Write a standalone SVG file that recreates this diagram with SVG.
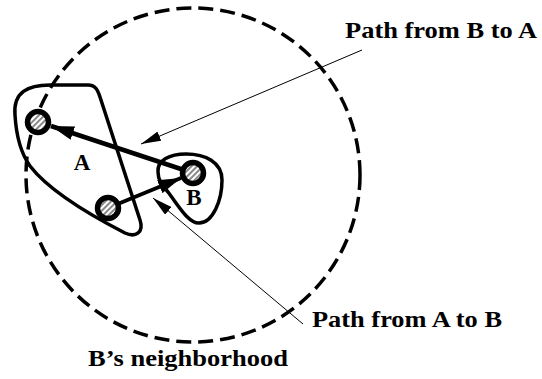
<svg xmlns="http://www.w3.org/2000/svg" width="542" height="379" viewBox="0 0 542 379">
<style>
text{font-family:"Liberation Serif","Times New Roman",serif;font-weight:bold;fill:#000}
.blob{fill:none;stroke:#000;stroke-width:3.5}
.node{fill:url(#hatch);stroke:#000;stroke-width:5.5}
.thick{stroke:#000;fill:none}
.leader{stroke:#000;stroke-width:1;fill:none}
</style>
<defs>
<pattern id="hatch" patternUnits="userSpaceOnUse" width="4" height="4" patternTransform="rotate(-45)">
<rect width="4" height="4" fill="#fff"/>
<rect width="4" height="2" fill="#888"/>
</pattern>
<marker id="bigHead" markerUnits="userSpaceOnUse" markerWidth="24" markerHeight="14" refX="23" refY="7" orient="auto">
<path d="M0,0 L23,7 L0,14 Z" fill="#000"/>
</marker>
<marker id="thinHead" markerUnits="userSpaceOnUse" markerWidth="21" markerHeight="10" refX="20" refY="5" orient="auto">
<path d="M0,0 L20,5 L0,10 Z" fill="#000"/>
</marker>
</defs>
<rect width="542" height="379" fill="#fff"/>
<g id="neighborhood">
<circle cx="193" cy="175" r="167" fill="none" stroke="#000" stroke-width="3.5" stroke-dasharray="15 7"/>
<text x="88" y="366" font-size="24" textLength="200" lengthAdjust="spacingAndGlyphs">B’s neighborhood</text>
</g>
<g id="regionA">
<path class="blob" d="M15,115 C13,92 28,85 50,85 L88,85 C96,85 98,91 100,97 L140,220 C144,232 136,238 125,233 C90,215 50,192 30,166 C20,152 16,132 15,115 Z"/>
<text x="82" y="170" font-size="23" text-anchor="middle">A</text>
</g>
<g id="regionB">
<path class="blob" d="M158,172 C157,160 170,154 186,154 C205,154 222,162 222,180 C222,200 213,223 199,223 C188,223 178,205 168,192 C162,185 158,180 158,172 Z"/>
<text x="194" y="205" font-size="23" text-anchor="middle">B</text>
</g>
<g id="connectors">
<line class="thick" x1="193" y1="173" x2="51" y2="126" stroke-width="4.5" marker-end="url(#bigHead)"/>
<line class="thick" x1="108" y1="208" x2="181" y2="178" stroke-width="4" marker-end="url(#bigHead)"/>
<line class="leader" x1="362" y1="50" x2="141" y2="144" marker-end="url(#thinHead)"/>
<line class="leader" x1="303" y1="324" x2="153" y2="198" marker-end="url(#thinHead)"/>
</g>
<g id="nodeA1"><circle class="node" cx="38" cy="122" r="10.5"/></g>
<g id="nodeA2"><circle class="node" cx="108" cy="208" r="10.5"/></g>
<g id="nodeB"><circle class="node" cx="193" cy="173" r="10.5"/></g>
<g id="labels">
<text x="345" y="38" font-size="24" textLength="192" lengthAdjust="spacingAndGlyphs">Path from B to A</text>
<text x="312" y="327" font-size="24" textLength="190" lengthAdjust="spacingAndGlyphs">Path from A to B</text>
</g>
</svg>
